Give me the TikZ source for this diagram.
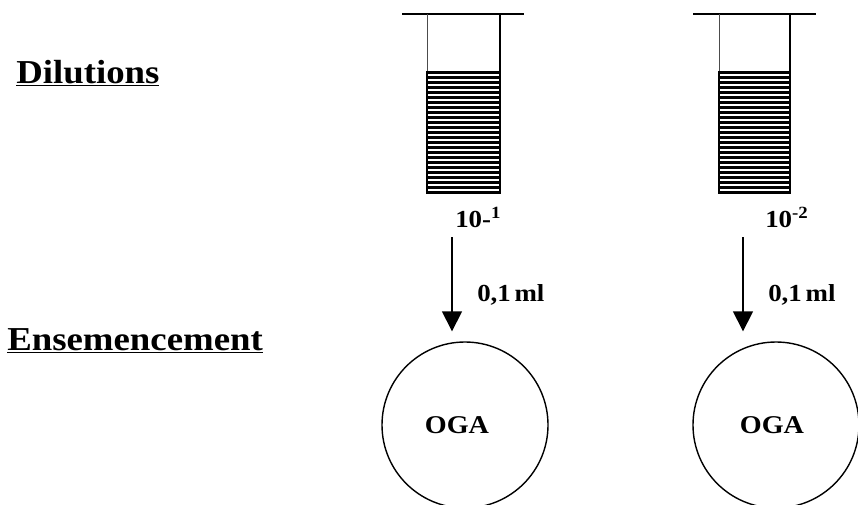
\documentclass[tikz,border=0pt]{standalone}
\usepackage{fontspec}
\setmainfont{Liberation Serif}[FakeStretch=1.1]
\usetikzlibrary{arrows.meta,calc}
% tube: left wall, right wall, rim left, rim right
\def\tube(#1:#2:#3:#4){%
	\draw[line width=0.6mm] (#3, 12.25) -- (#4, 12.25);
	\draw[line width=0.25mm, color=black!70] (#1, 12.25) -- (#1, 10.8);
	\draw[line width=0.5mm] (#2, 12.25) -- (#2, 10.8);
	\draw[line width=0.5mm] (#1, 10.8) rectangle (#2, 7.775);
	\foreach \k in {0,...,24}
		\draw[line width=0.75mm] (#1, {10.8-0.125*\k}) -- (#2, {10.8-0.125*\k});
}

\begin{document}
\begin{tikzpicture}
	%%%%% START %%%%%
	\useasboundingbox (0, 0) rectangle (21.45, 12.6);
	\tikzset{
		title/.style={anchor=base west, inner sep=0, font=\bfseries\fontsize{23.8}{27}\selectfont},
		dilution/.style={anchor=base west, inner sep=0, font=\bfseries\fontsize{17.4}{20}\selectfont},
		plate/.style={draw, circle, line width=0.35mm, minimum size=4.15cm, inner sep=0, font=\bfseries\fontsize{18.2}{21}\selectfont},
		transfer/.style={line width=0.4mm, -{Triangle[width=5mm, length=5mm]}, shorten >=0.25cm}
	}
	
	\node[title] (dil) at (0.4, 10.525) {\underline{Dilutions}};
	\node[title] (ens) at (0.175, 3.85) {\underline{Ensemencement}};
	
	\tube(10.675:12.5:10.05:13.1)
	\tube(17.975:19.75:17.325:20.4)
	
	\node[dilution] (d1) at (11.375, 6.925) {10-\textsuperscript{1}};
	\node[dilution] (d2) at (19.125, 6.925) {10\textsuperscript{-2}};
	
	\node[plate] (plate1) at (11.625, 1.975) {\hspace{-0.4cm}OGA};
	\node[plate] (plate2) at (19.4, 1.975) {\hspace{-0.2cm}OGA};
	
	\coordinate (src1) at (11.3, 6.675);
	\coordinate (src2) at (18.575, 6.675);
	\draw[transfer] (src1) -- (src1 |- plate1.north);
	\draw[transfer] (src2) -- (src2 |- plate2.north);
	
	\node[dilution] (v1) at (11.925, 5.075) {0,1\hspace{0.15em}ml};
	\node[dilution] (v2) at (19.2, 5.075) {0,1\hspace{0.15em}ml};
	%%%%% END %%%%%
\end{tikzpicture}
\end{document}
